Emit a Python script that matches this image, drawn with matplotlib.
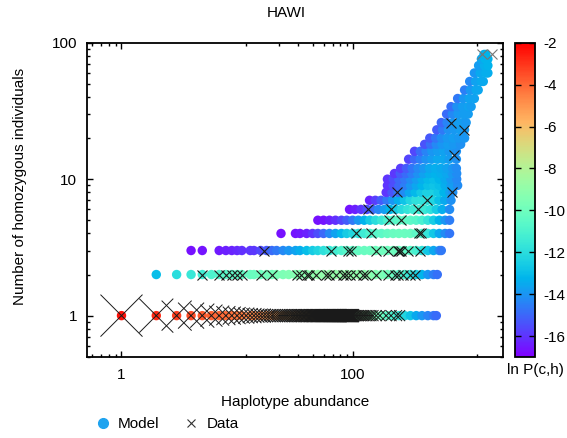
import matplotlib
matplotlib.use('Agg')
import matplotlib.pyplot as plt
import numpy as np
from matplotlib.ticker import FixedLocator, FixedFormatter, LogLocator, NullFormatter
from matplotlib.lines import Line2D

plt.rcParams['font.family'] = ['Liberation Sans', 'DejaVu Sans']
plt.rcParams['font.size'] = 11
plt.rcParams['axes.unicode_minus'] = False

# model: rows of homozygous count c, each with haplotype abundances h and ln P(c,h)
model_c = [1, 2, 3, 4, 5, 6, 7, 8, 9, 10, 11, 12, 14, 16, 18, 20, 23, 26, 30, 34, 39, 45, 52, 60, 68, 76, 82]
model_h = [
    [1, 2, 3, 4, 5, 6, 7, 8, 9, 10, 11, 13, 14, 16, 18, 20, 22, 25, 28, 32, 35, 40, 45, 50, 56, 63, 71, 80, 89,
     100, 112, 126, 141, 158, 178, 200, 224, 251, 282, 316, 355, 398, 447, 501, 530],
    [2, 3, 4, 5, 6, 7, 8, 9, 10, 11, 13, 14, 16, 18, 20, 22, 25, 28, 32, 35, 40, 45, 50, 56, 63, 71, 80, 89,
     100, 112, 126, 141, 158, 178, 200, 224, 251, 282, 316, 355, 398, 447, 501, 540],
    [4, 5, 7, 8, 9, 10, 11, 13, 14, 16, 18, 20, 22, 25, 28, 32, 35, 40, 45, 50, 56, 63, 71, 80, 89,
     100, 112, 126, 141, 158, 178, 200, 224, 251, 282, 316, 355, 398, 447, 501, 562, 585],
    [24, 32, 35, 40, 45, 50, 56, 63, 71, 80, 89, 100, 112, 126, 141, 158, 178, 200, 224, 251, 282, 316, 355,
     398, 447, 501, 562, 631, 690],
    [50, 56, 63, 71, 80, 89, 100, 112, 126, 141, 158, 178, 200, 224, 251, 282, 316, 355, 398, 447, 501, 562, 631, 690],
    [94, 105, 118, 133, 149, 167, 188, 211, 236, 265, 298, 334, 375, 421, 472, 530, 595, 690],
    [140, 157, 176, 198, 222, 249, 280, 314, 352, 395, 443, 497, 558, 626, 710],
    [195, 219, 246, 276, 309, 347, 390, 437, 490, 550, 617, 692, 735],
    [200, 224, 251, 282, 316, 355, 398, 447, 501, 562, 631, 708, 810],
    [200, 224, 251, 282, 316, 355, 398, 447, 501, 562, 631, 708, 795],
    [230, 258, 290, 325, 365, 410, 460, 516, 579, 650, 729, 795],
    [260, 292, 327, 367, 412, 462, 518, 582, 653, 733, 790],
    [305, 342, 384, 431, 483, 542, 609, 683, 790],
    [343, 385, 432, 485, 544, 610, 685, 790],
    [420, 471, 529, 593, 666, 747, 860],
    [465, 522, 585, 657, 737, 827, 930],
    [535, 600, 673, 756, 848, 930],
    [585, 656, 736, 826, 900, 960],
    [650, 729, 818, 918, 1000],
    [710, 797, 894, 1003, 1060],
    [810, 909, 1020, 1130],
    [930, 1043, 1170, 1220],
    [1030, 1156, 1297, 1350],
    [1130, 1268, 1420, 1480],
    [1230, 1380, 1480],
    [1300, 1400, 1480],
    [1370, 1420],
]
model_lnp = [
    [-2.3, -2.8, -3.2, -3.5, -3.7, -3.9, -4.0, -4.1, -4.2, -4.3, -4.4, -4.6, -4.7, -4.8, -5.0, -5.1, -5.3, -5.5,
     -5.7, -5.9, -6.1, -6.3, -6.5, -6.7, -6.9, -7.1, -7.3, -7.6, -7.9, -8.2, -8.5, -8.8, -9.2, -9.6, -10.0,
     -10.5, -11.0, -11.5, -12.2, -12.8, -13.5, -14.0, -14.4, -14.7, -14.9],
    [-13.0, -12.0, -11.6, -11.3, -11.0, -10.8, -10.6, -10.5, -10.4, -10.3, -10.2, -10.1, -10.0, -9.9, -9.8, -9.7,
     -9.6, -9.5, -9.4, -9.3, -9.2, -9.1, -9.0, -9.0, -8.9, -8.9, -8.9, -8.9, -9.0, -9.0, -9.1, -9.2, -9.4, -9.6,
     -9.9, -10.2, -10.6, -11.1, -11.7, -12.4, -13.2, -14.0, -14.5, -14.8],
    [-16.7, -16.6, -16.5, -16.4, -16.3, -16.2, -16.1, -16.0, -15.9, -15.6, -15.3, -14.9, -14.6, -14.3, -14.0,
     -13.7, -13.4, -13.0, -12.6, -12.3, -11.9, -11.6, -11.3, -11.0, -10.7, -10.5, -10.3, -10.2, -10.1, -10.0,
     -10.0, -10.0, -10.0, -10.1, -10.3, -10.6, -11.1, -11.8, -12.7, -13.6, -14.2, -14.6],
    [-16.7, -16.6, -16.5, -16.3, -16.0, -15.5, -15.0, -14.3, -13.7, -13.1, -12.6, -12.2, -11.8, -11.4, -11.0,
     -10.7, -10.5, -10.3, -10.2, -10.1, -10.1, -10.2, -10.5, -11.0, -11.7, -12.7, -13.6, -14.2, -14.7],
    [-16.7, -16.6, -16.4, -16.1, -15.7, -15.2, -14.6, -14.0, -13.3, -12.6, -12.0, -11.5, -11.0, -10.7, -10.5,
     -10.4, -10.5, -10.7, -11.1, -11.7, -12.5, -13.3, -14.0, -14.5],
    [-16.6, -16.4, -16.0, -15.5, -15.0, -14.4, -13.8, -13.2, -12.6, -12.1, -11.7, -11.4, -11.3, -11.5, -11.9,
     -12.6, -13.4, -14.2],
    [-16.3, -15.8, -15.2, -14.6, -14.0, -13.4, -12.8, -12.3, -11.9, -11.8, -11.9, -12.3, -12.9, -13.5, -14.1],
    [-16.0, -15.4, -14.8, -14.2, -13.6, -13.1, -12.7, -12.4, -12.4, -12.7, -13.2, -13.7, -14.1],
    [-16.0, -15.5, -15.0, -14.5, -14.0, -13.6, -13.2, -12.9, -12.8, -13.0, -13.4, -13.8, -14.2],
    [-16.0, -15.5, -15.0, -14.6, -14.2, -13.8, -13.4, -13.1, -13.0, -13.2, -13.5, -13.9, -14.3],
    [-15.9, -15.3, -14.9, -14.5, -14.1, -13.7, -13.4, -13.3, -13.4, -13.6, -13.9, -14.2],
    [-15.8, -15.2, -14.7, -14.3, -13.9, -13.6, -13.4, -13.5, -13.7, -14.0, -14.2],
    [-15.7, -15.0, -14.5, -14.1, -13.8, -13.6, -13.6, -13.8, -14.1],
    [-15.6, -14.9, -14.4, -14.0, -13.8, -13.7, -13.9, -14.1],
    [-15.4, -14.8, -14.3, -14.0, -13.8, -13.9, -14.1],
    [-15.3, -14.7, -14.2, -13.9, -13.8, -13.9, -14.0],
    [-15.2, -14.6, -14.1, -13.9, -13.8, -13.9],
    [-15.0, -14.4, -14.0, -13.8, -13.8, -13.9],
    [-14.9, -14.3, -13.9, -13.8, -13.8],
    [-14.8, -14.1, -13.8, -13.7, -13.8],
    [-14.6, -14.0, -13.7, -13.7],
    [-14.5, -13.9, -13.6, -13.6],
    [-14.3, -13.7, -13.5, -13.5],
    [-14.0, -13.5, -13.4, -13.4],
    [-13.8, -13.4, -13.3],
    [-13.6, -13.3, -13.3],
    [-13.4, -13.2],
]

# observed data (abundance, homozygous count)
data_c1_h = list(range(1, 101)) + [103, 106, 109, 112, 116, 120, 124, 128, 133, 138, 144, 150, 160, 172,
                                   195, 215, 240, 255]
# half-width (px) of the large crosses for the first abundances of row c=1
data_c1_halfwidth = [21, 17, 15, 13, 12, 11, 10, 9.5, 9, 8.5, 8, 8, 7.5, 7.5, 7, 7, 7, 6.5, 6.5, 6.5]
data_h = [5, 7, 8, 9, 10, 11, 16, 20, 33, 36, 40, 42, 48, 59, 63, 72, 82, 88, 94, 108, 123, 131, 160, 202, 231,
          246, 272, 311, 344,
          17, 65, 91, 97, 160, 202, 246, 253, 264, 301, 380,
          108, 145, 375, 390,
          205, 264,
          137, 216, 367,
          440,
          242, 723,
          747, 918, 713]
data_c = [2] * 29 + [3] * 11 + [4] * 4 + [5] * 2 + [6] * 3 + [7] + [8] * 2 + [15, 23, 26]
data_top_h = [1322, 1614]
data_top_c = [82, 82]

W, H = 567, 438
fig = plt.figure(figsize=(W / 100, H / 100), dpi=100)
ax = fig.add_axes([86.7 / W, 1 - 356.7 / H, (503 - 86.7) / W, (356.7 - 42.7) / H])
cax = fig.add_axes([515 / W, 1 - 357 / H, 20 / W, (357 - 42.7) / H])

xs, ys, vs = [], [], []
for c, hs, vals in zip(model_c, model_h, model_lnp):
    assert len(hs) == len(vals), c
    xs += hs
    ys += [c] * len(hs)
    vs += vals
sc = ax.scatter(xs, ys, c=vs, cmap='rainbow', vmin=-17, vmax=-2, s=46, linewidths=0, zorder=2)

sizes = []
for i, h in enumerate(data_c1_h):
    if i < len(data_c1_halfwidth):
        hw = data_c1_halfwidth[i]
    elif h <= 100:
        hw = 6.5
    else:
        hw = 5.5
    sizes.append((1.44 * hw) ** 2)
ax.scatter(data_c1_h, [1] * len(data_c1_h), marker='x', s=sizes, c='#1a1a1a', linewidths=0.7, zorder=3)
ax.scatter(data_h, data_c, marker='x', s=(1.44 * 5) ** 2, c='#1a1a1a', linewidths=0.8, zorder=3)
ax.scatter(data_top_h, data_top_c, marker='x', s=(1.44 * 5) ** 2, c='#777777', linewidths=0.8, zorder=3)

ax.set_xscale('log')
ax.set_yscale('log')
ax.set_xlim(0.5, 2000)
ax.set_ylim(0.5, 100)
ax.xaxis.set_major_locator(FixedLocator([1, 100]))
ax.xaxis.set_major_formatter(FixedFormatter(['1', '100']))
ax.xaxis.set_minor_locator(FixedLocator([0.56, 0.67, 0.78, 0.89, 12, 23, 34, 45, 56, 67, 78, 89, 1200]))
ax.xaxis.set_minor_formatter(NullFormatter())
ax.yaxis.set_major_locator(FixedLocator([1, 10, 100]))
ax.yaxis.set_major_formatter(FixedFormatter(['1', '10', '100']))
ax.yaxis.set_minor_locator(LogLocator(base=10, subs=np.arange(2, 10)))
ax.yaxis.set_minor_formatter(NullFormatter())
ax.tick_params(which='both', direction='in', top=True, right=True, width=1)
ax.tick_params(which='major', length=4)
ax.tick_params(which='minor', length=2.2)
ax.tick_params(axis='x', pad=8)
ax.tick_params(axis='y', pad=7)
for s in ax.spines.values():
    s.set_linewidth(1.3)

cb = fig.colorbar(sc, cax=cax)
cb.set_ticks(list(range(-16, -1, 2)))
cb.minorticks_off()
cax.tick_params(direction='in', left=True, right=True, length=4, width=1, pad=6)
cb.outline.set_linewidth(1.3)

fig.text(286 / W, 1 - 13 / H, 'HAWI', ha='center', va='center')
fig.text(295 / W, 1 - 402 / H, 'Haplotype abundance', ha='center', va='center')
fig.text(20 / W, 1 - 186 / H, 'Number of homozygous individuals', ha='center', va='center', rotation=90)
fig.text(535 / W, 1 - 370 / H, 'ln P(c,h)', ha='center', va='center')

handles = [Line2D([], [], marker='o', ls='', color='#1fa3ef', ms=7, label='Model'),
           Line2D([], [], marker='x', ls='', color='#333333', ms=5.5, mew=0.8, label='Data')]
fig.legend(handles=handles, loc='center left', bbox_to_anchor=(95 / W, 1 - 424 / H), ncol=2, frameon=False,
           handletextpad=0.5, columnspacing=1.6, handlelength=1.0, borderpad=0, borderaxespad=0)

fig.savefig('out.png', dpi=100)
